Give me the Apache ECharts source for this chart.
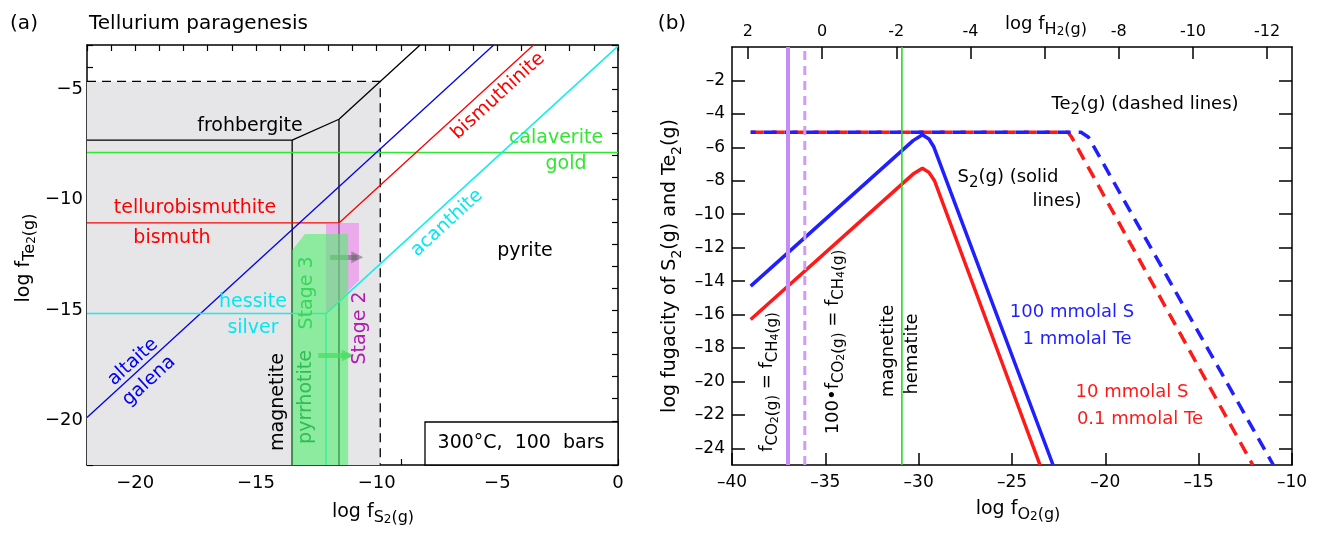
<!DOCTYPE html>
<html>
<head>
<meta charset="utf-8">
<script src="https://cdn.jsdelivr.net/npm/echarts@6/dist/echarts.min.js"></script>
<style>
  html, body { margin: 0; background: #fff; }
  #chart { width: 1322px; height: 534px; }
</style>
</head>
<body>
<div id="chart"></div>
<script>
// ---- panel (a): log fS2(g) vs log fTe2(g) ----
const greyRegion = [[-22, -22], [-9.85, -22], [-9.85, -4.65], [-22, -4.65]];
const stage2Region = [[-12.1, -11.05], [-10.73, -11.05], [-10.73, -13.64], [-12.0, -15.05], [-12.1, -15.05]];
const stage3Region = [[-13.5, -22], [-13.5, -12.27], [-12.97, -11.55], [-11.18, -11.55], [-11.18, -22]];
const dashedLimit = [[-22, -4.65], [-9.85, -4.65], [-9.85, -22]];
const frohbergite = [[-22, -7.3], [-13.5, -7.3], [-11.56, -6.36], [-8.2, -3]];
const magnetiteLine = [[-13.5, -7.3], [-13.5, -22]];
const pyrrhotiteLine = [[-11.56, -6.36], [-11.56, -22]];
const calaverite = [[-22, -7.86], [0, -7.86]];
const tellurobismuthite = [[-22, -11.05], [-11.56, -11.05], [-3.5, -3]];
const altaite = [[-22, -19.85], [-5.15, -3]];
const hessite = [[-22, -15.15], [-12.1, -15.15], [0, -3.05]];
const hessiteDrop = [[-12.1, -15.15], [-12.1, -22]];
const arrowGrey = [[-11.93, -12.6], [-10.8, -12.6]];
const arrowGreen = [[-12.42, -17.05], [-11.2, -17.05]];

// ---- panel (b): log fO2(g) vs log fugacity ----
const s2High = [[-39, -14.3], [-30.3, -5.6], [-29.8, -5.25], [-29.45, -5.5], [-29.2, -5.95], [-22.8, -25]];
const s2Low = [[-39, -16.3], [-30.3, -7.6], [-29.8, -7.25], [-29.45, -7.5], [-29.15, -8.0], [-23.5, -25]];
const te2High = [[-39, -5.1], [-21.3, -5.1], [-20.9, -5.4], [-11.0, -25]];
const te2Low = [[-39, -5.1], [-22.0, -5.1], [-21.8, -5.4], [-12.1, -25]];
const co2Line = [[-37.0, -25], [-37.0, 0]];
const co2x100Line = [[-36.1, -25], [-36.1, 0]];
const mtHmLine = [[-30.9, -25], [-30.9, 0]];

const h2Ticks = [2, 0, -2, -4, -6, -8, -10, -12];
const h2Labels = [2, 0, -2, -4, -8, -10, -12];   // -6 sits under the axis title
const fugTicks = [-24, -22, -20, -18, -16, -14, -12, -10, -8, -6, -4, -2];

const F = 'DejaVu Sans';
const chart = echarts.init(document.getElementById('chart'));

const fmtA = v => (v % 5 === 0 ? String(v).replace('-', '\u2212') : '');
const fmtB = v => String(v).replace('-', '\u2013');

const frame = { show: true, onZero: false, lineStyle: { color: '#000', width: 1.5 } };
const tickA = { show: true, inside: true, length: 6, lineStyle: { color: '#000', width: 1.2 } };
const noLabel = { show: false };

const A = { xAxisIndex: 0, yAxisIndex: 0 };
const B = { xAxisIndex: 2, yAxisIndex: 2 };

function poly(points, fill, z) {
  return Object.assign({
    type: 'custom', z: z, silent: true, data: [0],
    renderItem: (params, api) => ({
      type: 'polygon',
      shape: { points: points.map(p => api.coord(p)) },
      style: { fill: fill }
    })
  }, A);
}

function path(data, color, width, ax, type, extra) {
  return Object.assign({
    type: 'line', data: data, symbol: 'none', silent: true, z: 3,
    lineStyle: Object.assign({ color: color, width: width, type: type || 'solid', cap: 'butt' }, extra || {})
  }, ax);
}

function arrow(pts, color) {
  return Object.assign({
    type: 'line', data: pts, symbol: 'none', silent: true, z: 6,
    lineStyle: { width: 0, opacity: 0 },
    markLine: {
      silent: true, animation: false, symbol: ['none', 'triangle'], symbolSize: 12,
      label: { show: false }, emphasis: { disabled: true },
      lineStyle: { color: color, width: 5, type: 'solid' },
      data: [[{ coord: pts[0] }, { coord: pts[1] }]]
    }
  }, A);
}

const rich = (n, s, ss) => ({
  n: { fontFamily: F, fontSize: n, lineHeight: 28 },
  s: { fontFamily: F, fontSize: s, lineHeight: 14, verticalAlign: 'bottom' },
  ss: { fontFamily: F, fontSize: ss, lineHeight: 8, verticalAlign: 'bottom' }
});

function label(x, y, text, color, size, rot, extra) {
  return {
    type: 'text', x: x, y: y, z: 100, silent: true,
    rotation: (rot || 0) * Math.PI / 180,
    style: Object.assign({
      text: text, fill: color || '#000', fontFamily: F, fontSize: size || 19,
      align: 'center', verticalAlign: 'middle'
    }, extra || {})
  };
}

const slope = 42.4;
const RED = '#ff0000', BLUE = '#0000ee', CYAN = '#00e8f4', GREEN = '#2fe82f';

chart.setOption({
  animation: false,
  grid: [
    { left: 87, top: 45, width: 531, height: 420, outerBoundsMode: 'none' },
    { left: 732, top: 47, width: 560, height: 418, outerBoundsMode: 'none' }
  ],
  xAxis: [
    { type: 'value', gridIndex: 0, position: 'bottom', min: -22, max: 0, interval: 1,
      splitLine: { show: false }, axisLine: frame, axisTick: tickA,
      axisLabel: { formatter: fmtA, fontFamily: F, fontSize: 18, color: '#000', margin: 9 } },
    { type: 'value', gridIndex: 0, position: 'top', min: -22, max: 0, interval: 1,
      splitLine: { show: false }, axisLine: frame, axisTick: tickA, axisLabel: noLabel },
    { type: 'value', gridIndex: 1, position: 'bottom', min: -40, max: -10, interval: 5,
      splitLine: { show: false }, axisLine: frame,
      axisTick: { show: true, inside: true, length: 12, lineStyle: { color: '#000', width: 1.5 } },
      axisLabel: { formatter: fmtB, fontFamily: F, fontSize: 17, color: '#000', margin: 9 } },
    { type: 'value', gridIndex: 1, position: 'top', min: -12.67, max: 2.43, inverse: true,
      splitLine: { show: false }, axisLine: frame,
      axisTick: { show: true, inside: true, length: 12, customValues: h2Ticks, lineStyle: { color: '#000', width: 1.5 } },
      axisLabel: { customValues: h2Labels, formatter: v => String(v), fontFamily: F, fontSize: 16, color: '#000', margin: 7 } }
  ],
  yAxis: [
    { type: 'value', gridIndex: 0, position: 'left', min: -22, max: -3, interval: 1,
      splitLine: { show: false }, axisLine: frame, axisTick: tickA,
      axisLabel: { formatter: fmtA, fontFamily: F, fontSize: 18, color: '#000', margin: 4 } },
    { type: 'value', gridIndex: 0, position: 'right', min: -22, max: -3, interval: 1,
      splitLine: { show: false }, axisLine: frame, axisTick: tickA, axisLabel: noLabel },
    { type: 'value', gridIndex: 1, position: 'left', min: -25, max: 0,
      splitLine: { show: false }, axisLine: frame,
      axisTick: { show: true, inside: true, length: 13, customValues: fugTicks, lineStyle: { color: '#000', width: 1.5 } },
      axisLabel: { customValues: fugTicks, formatter: fmtB, fontFamily: F, fontSize: 17, color: '#000', margin: 7 } },
    { type: 'value', gridIndex: 1, position: 'right', min: -25, max: 0,
      splitLine: { show: false }, axisLine: frame,
      axisTick: { show: true, inside: true, length: 13, customValues: fugTicks, lineStyle: { color: '#000', width: 1.5 } },
      axisLabel: noLabel }
  ],
  series: [
    // (a)
    poly(greyRegion, '#e6e6e9', 1),
    path(dashedLimit, '#000', 1.3, A, [9, 6]),
    path(frohbergite, '#000', 1.3, A),
    path(magnetiteLine, '#000', 1.3, A),
    path(pyrrhotiteLine, '#000', 1.3, A),
    path(calaverite, GREEN, 1.5, A),
    path(tellurobismuthite, RED, 1.3, A),
    path(altaite, BLUE, 1.3, A),
    path(hessite, '#11eeee', 1.5, A),
    path(hessiteDrop, '#11eeee', 1.5, A),
    poly(stage2Region, 'rgba(240,120,240,0.55)', 4),
    poly(stage3Region, 'rgba(80,238,110,0.6)', 5),
    arrow(arrowGrey, 'rgba(100,100,100,0.55)'),
    arrow(arrowGreen, 'rgba(60,200,80,0.75)'),
    // (b)
    path(s2High, '#1f1fff', 3.5, B),
    path(s2Low, '#ff1a1a', 3.5, B),
    path(te2Low, '#ff1a1a', 3.5, B, [13, 8]),
    path(te2High, '#1f1fff', 3.5, B, [13, 8], { dashOffset: 8 }),
    path(co2Line, '#c68cf6', 4, B),
    path(co2x100Line, '#cf9bf8', 3, B, [9, 6]),
    path(mtHmLine, '#22dd22', 1.6, B)
  ],
  graphic: [
    // (a)
    label(24, 24, '(a)', '#000', 20),
    label(89, 24, 'Tellurium paragenesis', '#000', 20, 0, { align: 'left' }),
    label(250, 126, 'frohbergite'),
    label(195, 208, 'tellurobismuthite', RED),
    label(172, 238, 'bismuth', RED),
    label(498, 96, 'bismuthinite', RED, 19, slope),
    label(556, 138, 'calaverite', GREEN),
    label(566, 164, 'gold', GREEN),
    label(447, 223, 'acanthite', CYAN, 19, slope),
    label(525, 251, 'pyrite'),
    label(253, 302, 'hessite', CYAN),
    label(253, 328, 'silver', CYAN),
    label(133, 362, 'altaite', BLUE, 19, slope),
    label(149, 381, 'galena', BLUE, 19, slope),
    label(278, 402, 'magnetite', '#000', 19, 90),
    label(306, 397, 'pyrrhotite', '#2fbd55', 19, 90),
    label(307, 293, 'Stage 3', '#38d65c', 19, 90),
    label(360, 328, 'Stage 2', '#b01cb0', 19, 90),
    { type: 'rect', z: 90, silent: true, shape: { x: 425, y: 422, width: 193, height: 43 },
      style: { fill: '#fff', stroke: '#000', lineWidth: 1.3 } },
    label(521, 443, '300\u00B0C,  100  bars', '#000', 19),
    label(24, 258, '{n|log f}{s|Te}{ss|2}{s|(g)}', '#000', 19, 90, { rich: rich(19, 16, 12) }),
    label(373, 512, '{n|log f}{s|S}{ss|2}{s|(g)}', '#000', 19, 0, { rich: rich(19, 16, 12) }),
    // (b)
    label(672, 24, '(b)', '#000', 20),
    label(1046, 24, '{n|log f}{s|H}{ss|2}{s|(g)}', '#000', 18, 0, { rich: rich(18, 16, 12) }),
    label(1145, 104, '{n|Te}{s|2}{n|(g) (dashed lines)}', '#000', 18, 0, { rich: rich(18, 15, 12) }),
    label(1008, 177, '{n|S}{s|2}{n|(g) (solid}', '#000', 18, 0, { rich: rich(18, 15, 12) }),
    label(1057, 201, 'lines)', '#000', 18),
    label(1072, 312, '100 mmolal S', '#1f1fff', 18),
    label(1077, 339, '1 mmolal Te', '#1f1fff', 18),
    label(1132, 392, '10 mmolal S', '#ff1a1a', 18),
    label(1140, 419, '0.1 mmolal Te', '#ff1a1a', 18),
    label(888, 351, 'magnetite', '#000', 18, 90),
    label(912, 354, 'hematite', '#000', 18, 90),
    label(767, 382, '{n|f}{s|CO}{ss|2}{s|(g)}{n| = f}{s|CH}{ss|4}{s|(g)}', '#000', 18, 90, { rich: rich(18, 15, 11) }),
    label(833, 342, '{n|100\u2022f}{s|CO}{ss|2}{s|(g)}{n| = f}{s|CH}{ss|4}{s|(g)}', '#000', 18, 90, { rich: rich(18, 15, 11) }),
    label(670, 266, '{n|log fugacity of S}{s|2}{n|(g) and Te}{s|2}{n|(g)}', '#000', 19, 90, { rich: rich(19, 14, 11) }),
    label(1018, 509, '{n|log f}{s|O}{ss|2}{s|(g)}', '#000', 19, 0, { rich: rich(19, 16, 12) })
  ]
});
</script>
</body>
</html>
